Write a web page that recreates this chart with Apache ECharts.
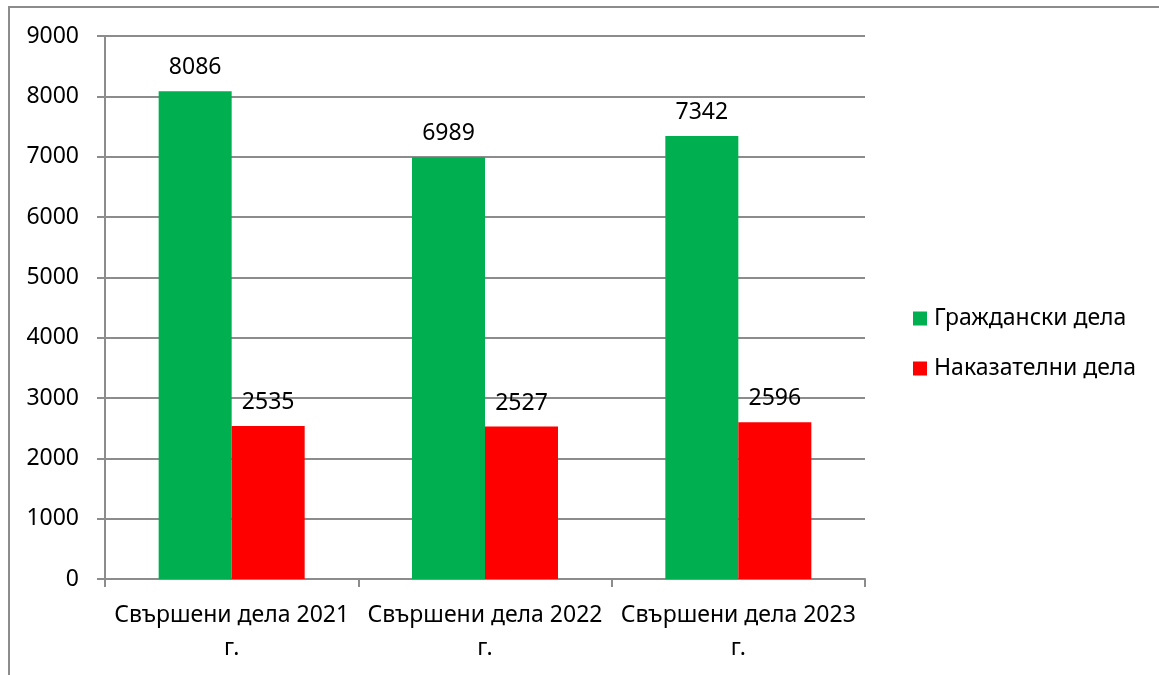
<!DOCTYPE html>
<html>
<head>
<meta charset="utf-8">
<script src="https://cdn.jsdelivr.net/npm/echarts@6/dist/echarts.min.js"></script>
<style>
	html, body { margin: 0; padding: 0; background: #fff; }
	#frame { position: absolute; left: 8px; top: 6px; width: 1200px; height: 720px; border-left: 2px solid #8c8c8c; border-top: 2px solid #8c8c8c; }
	#chart { position: absolute; left: 0; top: 0; width: 1159px; height: 675px; }
</style>
</head>
<body>
<div id="frame"></div>
<div id="chart"></div>
<script>
	var categories = ['Свършени дела 2021 г.', 'Свършени дела 2022 г.', 'Свършени дела 2023 г.'];
	var seriesNames = ['Граждански дела', 'Наказателни дела'];
	var civil = [8086, 6989, 7342];
	var criminal = [2535, 2527, 2596];

	var font = '"Noto Sans", sans-serif';
	var fs = 23;
	var myChart = echarts.init(document.getElementById('chart'));

	var option = {
		backgroundColor: 'transparent',
		animation: false,
		textStyle: { fontFamily: font },
		grid: { left: 105, right: 294, top: 36, bottom: 96 },
		legend: {
			orient: 'vertical',
			left: 908,
			top: 302,
			itemWidth: 14,
			itemHeight: 14,
			itemGap: 27,
			icon: 'rect',
			textStyle: { fontSize: fs, color: '#000', fontFamily: font, padding: [0, 0, 0, 2] },
			data: seriesNames
		},
		xAxis: {
			type: 'category',
			data: categories,
			axisLine: { lineStyle: { color: '#8c8c8c', width: 2 } },
			axisTick: { show: true, length: 8, lineStyle: { color: '#8c8c8c', width: 2 } },
			axisLabel: {
				interval: 0,
				color: '#000',
				fontSize: fs,
				fontFamily: font,
				margin: 20,
				lineHeight: 33,
				formatter: function (v) { return v.replace(' г.', '\nг.'); }
			}
		},
		yAxis: {
			type: 'value',
			min: 0,
			max: 9000,
			interval: 1000,
			axisLine: { show: true, lineStyle: { color: '#8c8c8c', width: 2 } },
			axisTick: { show: true, length: 8, lineStyle: { color: '#8c8c8c', width: 2 } },
			splitLine: { lineStyle: { color: '#8c8c8c', width: 2 } },
			axisLabel: { color: '#000', fontSize: fs, fontFamily: font, margin: 26, formatter: function (v) { return String(v); } }
		},
		series: [
			{
				name: seriesNames[0],
				type: 'bar',
				data: civil,
				barWidth: 73,
				barGap: '0%',
				itemStyle: { color: '#00B050' },
				label: { show: true, position: 'top', distance: 12, color: '#000', fontSize: fs, fontFamily: font }
			},
			{
				name: seriesNames[1],
				type: 'bar',
				data: criminal,
				barWidth: 73,
				barGap: '0%',
				itemStyle: { color: '#FF0000' },
				label: { show: true, position: 'top', distance: 12, color: '#000', fontSize: fs, fontFamily: font }
			}
		]
	};
	myChart.setOption(option);
</script>
</body>
</html>
